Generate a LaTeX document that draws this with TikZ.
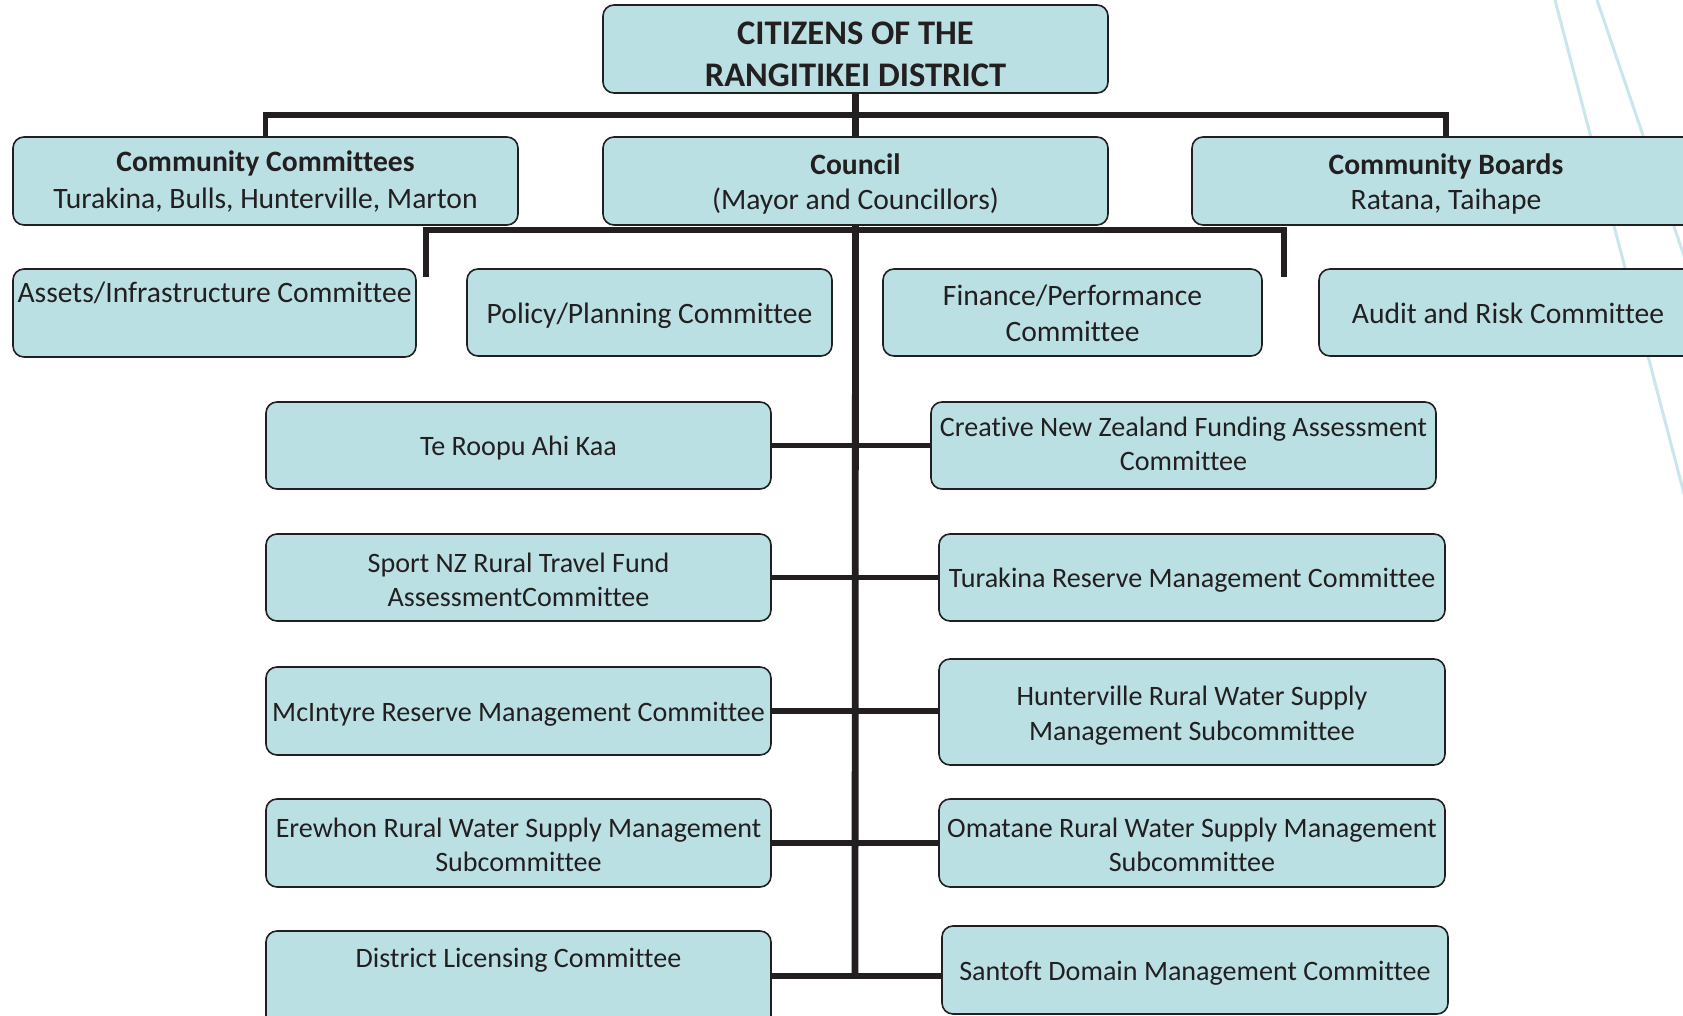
\documentclass[tikz,border=0pt]{standalone}
\usepackage{fontspec}
\setmainfont[Ligatures=NoCommon]{Carlito}
\definecolor{boxfill}{RGB}{186,224,228}
\definecolor{edge}{RGB}{35,31,32}
\definecolor{diag}{RGB}{200,230,236}
\tikzset{
  orgbox/.style={draw=edge, fill=boxfill, line width=1.6pt, rounded corners=11pt, inner sep=0pt},
  boxtext/.style={inner sep=0pt, align=center, text=edge, font=\fontsize{28.1}{34}\selectfont},
  bigtext/.style={font=\fontsize{29.6}{35.5}\selectfont},
  conn/.style={draw=edge, line width=5.7pt, line join=miter},
  spine/.style={draw=edge, line width=6.8pt},
  diagline/.style={draw=diag, line width=3pt}
}
% #1 name, #2 x1, #3 y1, #4 x2, #5 y2, #6 text options, #7 text
\newcommand\obox[7]{%
  \node[orgbox, minimum width={(#4)-(#2)}, minimum height={(#5)-(#3)}] (#1)
    at ({((#2)+(#4))/2},{((#3)+(#5))/2}) {};
  \node[boxtext, #6] (#1-t) at (#1.center) {#7};}
\begin{document}
\begin{tikzpicture}[x=1pt,y=-1pt]
\useasboundingbox (0,0) rectangle (1683,1016);
\begin{scope}
\clip (0,0) rectangle (1683,1016);
% decorative diagonal lines
\draw[diagline] (1555,0) -- (1700,555);
\draw[diagline] (1597,0) -- (1700,303);
% coordinates for buses
\coordinate (bus1) at (855,115);
\coordinate (bus2) at (855,230);
\coordinate (stubL) at (426,277);
\coordinate (stubR) at (1284,277);
\coordinate (vend) at (855,976);
% top boxes
\obox{cit}{603}{5}{1108}{93}{yshift=-5pt, font=\fontsize{34.5}{42}\selectfont\bfseries}{CITIZENS OF THE\\RANGITIKEI DISTRICT}
\obox{cc}{13}{137}{518}{225}{bigtext, yshift=-0.5pt}{\textbf{Community Committees}\\[1.5pt]Turakina, Bulls, Hunterville, Marton}
\obox{council}{603}{137}{1108}{225}{bigtext, yshift=-3pt}{\textbf{Council}\\[-1pt](Mayor and Councillors)}
\obox{cb}{1192}{137}{1700}{225}{bigtext, yshift=-3pt}{\textbf{Community Boards}\\[-1pt]Ratana, Taihape}
% committee row
\obox{assets}{13}{269}{416}{357}{bigtext, yshift=20pt}{Assets/Infrastructure Committee}
\obox{policy}{467}{269}{832}{356}{bigtext, yshift=-3pt}{Policy/Planning Committee}
\obox{finance}{883}{269}{1262}{356}{bigtext, yshift=-1pt}{Finance/Performance\\Committee}
\obox{audit}{1319}{269}{1697}{356}{bigtext, yshift=-1pt}{Audit and Risk Committee}
% left column
\obox{teroopu}{266}{402}{771}{489}{yshift=-3pt}{Te Roopu Ahi Kaa}
\obox{sport}{266}{534}{771}{621}{yshift=-2pt}{Sport NZ Rural Travel Fund\\AssessmentCommittee}
\obox{mcintyre}{266}{667}{771}{755}{yshift=-3pt}{McIntyre Reserve Management Committee}
\obox{erewhon}{266}{799}{771}{887}{yshift=-2pt}{Erewhon Rural Water Supply Management\\Subcommittee}
\obox{district}{266}{931}{771}{1040}{yshift=25.5pt}{District Licensing Committee}
% right column
\obox{creative}{931}{402}{1436}{489}{yshift=2pt}{Creative New Zealand Funding Assessment\\Committee}
\obox{turakina}{939}{534}{1445}{621}{yshift=-3pt}{Turakina Reserve Management Committee}
\obox{hunter}{939}{659}{1445}{765}{yshift=-3.5pt}{Hunterville Rural Water Supply\\[1pt]Management Subcommittee}
\obox{omatane}{939}{799}{1445}{887}{yshift=-2pt}{Omatane Rural Water Supply Management\\Subcommittee}
\obox{santoft}{942}{926}{1448}{1014}{yshift=-3pt}{Santoft Domain Management Committee}
\end{scope}
% connectors
\draw[spine] (cit.south) -- (council.north);
\draw[conn] (cc.north) |- (bus1) -| (cb.north);
\draw[conn] (stubL) |- (bus2) -| (stubR);
\draw[conn] (teroopu.east) -- (creative.west);
\draw[conn] (sport.east) -- (turakina.west);
\draw[conn] (mcintyre.east) -- (mcintyre.east -| hunter.west);
\draw[conn] (erewhon.east) -- (omatane.west);
\draw[conn] (district.east |- vend) -- (santoft.west |- vend);
\draw[spine] (council.south) -- ([yshift=-2.85pt]vend);
\end{tikzpicture}
\end{document}
